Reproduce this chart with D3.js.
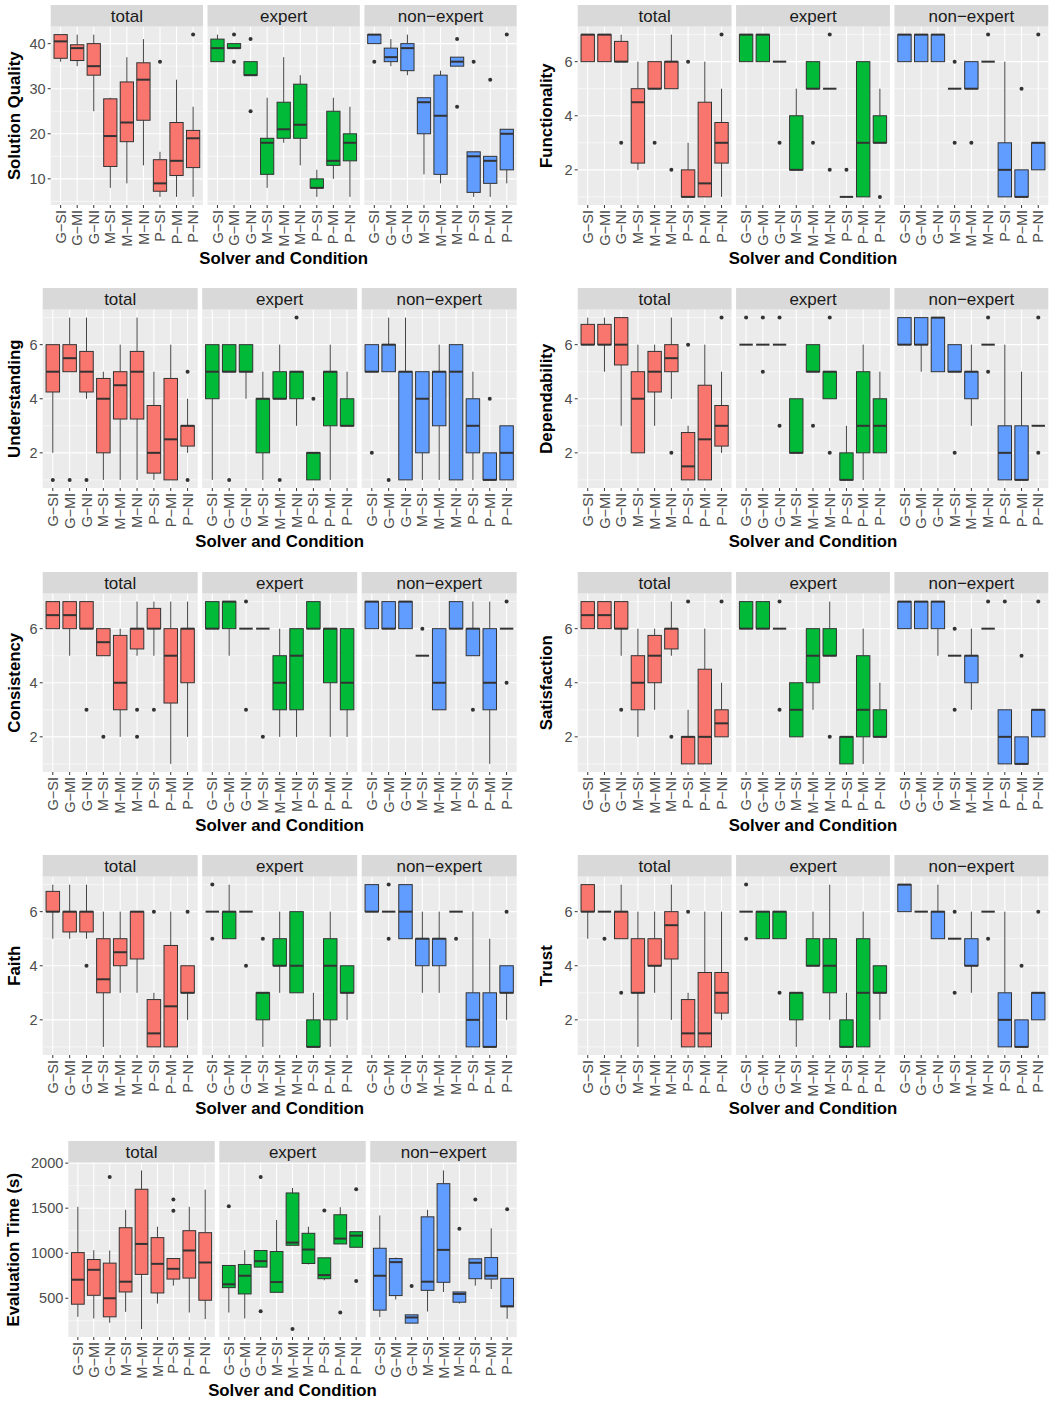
<!DOCTYPE html>
<html><head><meta charset="utf-8">
<script src="https://cdn.jsdelivr.net/npm/d3@7"></script>
<style>
body{margin:0;background:#fff}
svg{display:block}
text{font-family:"Liberation Sans",Arial,Helvetica,sans-serif}
</style>
</head><body>
<svg id="chart" width="1058" height="1402"></svg>
<script>
// ---------------- DATA ----------------
const categories = ["G−SI","G−MI","G−NI","M−SI","M−MI","M−NI","P−SI","P−MI","P−NI"];
const groups = ["total","expert","non−expert"];
const groupColors = ["#F8766D","#00BA38","#619CFF"];
const xAxisTitle = "Solver and Condition";

// each row: [whiskerLow, q1, median, q3, whiskerHigh, outliers]; one block per group (total, expert, non-expert)
const solutionQuality = [
  [[36,36.75,40.5,42,42,[]],[35,36.25,39,39.75,42,[]],[25,33,35,40,42,[]],[8,12.75,19.5,27.75,28,[]],[9,18.25,22.5,31.5,37,[]],[13,23,32,35.75,41,[]],[6,7.25,9,14.25,16,[36]],[6,10.75,14,22.5,32,[]],[6,12.5,19,20.75,26,[42]]],
  [[36,36,39,41,42,[]],[39,39,39,40,40,[42,36]],[33,33,33,36,36,[41,25]],[8,11,18,19,28,[]],[18,19,21,27,37,[]],[13,19,22,31,33,[]],[6,8,8,10,12,[]],[10,13,14,25,28,[]],[6,14,18,20,26,[]]],
  [[40,40,42,42,42,[36]],[35,36,37,39,41,[]],[33,34,39,40,42,[]],[11,20,27,28,28,[]],[9,11,24,33,34,[]],[35,35,36,37,37,[41,26]],[6,7,15,16,16,[36]],[6,9,14,15,15,[32]],[9,12,20,21,21,[42]]]
];
const functionality = [
  [[6,6,7,7,7,[]],[6,6,7,7,7,[]],[6,6,6,6.75,7,[3]],[2,2.25,4.5,5,6,[]],[5,5,5,6,6,[3]],[5,5,6,6,7,[2]],[1,1,1,2,3,[6]],[1,1,1.5,4.5,6,[]],[1,2.25,3,3.75,5,[7]]],
  [[6,6,7,7,7,[]],[6,6,7,7,7,[]],[6,6,6,6,6,[3]],[2,2,2,4,5,[]],[5,5,5,6,6,[3]],[5,5,5,5,5,[7,2]],[1,1,1,1,1,[2]],[1,1,3,6,6,[]],[3,3,3,4,5,[1]]],
  [[6,6,7,7,7,[]],[6,6,7,7,7,[]],[6,6,7,7,7,[]],[5,5,5,5,5,[6,3]],[5,5,5,6,6,[3]],[6,6,6,6,6,[7]],[1,1,2,3,6,[]],[1,1,1,2,2,[5]],[2,2,3,3,3,[7]]]
];
const understanding = [
  [[2,4.25,5,6,6,[1]],[5,5,5.5,6,7,[1]],[4,4.25,5,5.75,7,[1]],[1,2,4,4.75,5,[]],[1,3.25,4.5,5,6,[]],[1,3.25,5,5.75,7,[]],[1,1.25,2,3.75,5,[]],[1,1,2.5,4.75,6,[]],[2,2.25,3,3,4,[5,1]]],
  [[1,4,5,6,6,[]],[5,5,5,6,6,[1]],[4,5,5,6,6,[]],[1,2,4,4,5,[]],[4,4,4,5,6,[1]],[3,4,5,5,5,[7]],[1,1,2,2,2,[4]],[1,3,5,5,6,[]],[3,3,3,4,5,[]]],
  [[5,5,5,6,6,[2]],[5,5,6,6,7,[1]],[1,1,5,5,7,[]],[1,2,4,5,5,[]],[1,3,5,5,6,[]],[1,1,5,6,6,[]],[1,2,3,4,5,[]],[1,1,1,2,2,[4]],[1,1,2,3,3,[]]]
];
const dependability = [
  [[6,6,6,6.75,7,[]],[5,6,6,6.75,7,[]],[3,5.25,6,7,7,[]],[2,2,4,5,6,[]],[3,4.25,5,5.75,6,[]],[4,5,5.5,6,7,[2]],[1,1,1.5,2.75,3,[6]],[1,1,2.5,4.5,6,[]],[2,2.25,3,3.75,5,[7]]],
  [[6,6,6,6,6,[7]],[6,6,6,6,6,[7,5]],[6,6,6,6,6,[7,3]],[2,2,2,4,4,[]],[5,5,5,6,6,[3]],[4,4,5,5,5,[7,2]],[1,1,1,2,3,[]],[1,2,3,5,6,[]],[2,2,3,4,5,[]]],
  [[6,6,6,7,7,[]],[5,6,6,7,7,[]],[5,5,7,7,7,[]],[5,5,5,6,6,[2]],[3,4,5,5,6,[]],[6,6,6,6,6,[7,5]],[1,1,2,3,6,[]],[1,1,1,3,5,[]],[3,3,3,3,3,[7,2]]]
];
const consistency = [
  [[6,6,6.5,7,7,[]],[5,6,6.5,7,7,[]],[6,6,6,7,7,[3]],[5,5,5.5,6,6,[2]],[2,3,4,5.75,6,[]],[5,5.25,6,6,7,[3,2]],[5,6,6,6.75,7,[3]],[1,3.25,5,6,7,[]],[2,4,6,6,7,[]]],
  [[6,6,6,7,7,[]],[5,6,7,7,7,[]],[6,6,6,6,6,[7,3]],[6,6,6,6,6,[2]],[2,3,4,5,6,[]],[2,3,5,6,6,[]],[6,6,6,7,7,[]],[2,4,6,6,6,[]],[2,3,4,6,6,[]]],
  [[6,6,7,7,7,[]],[6,6,6,7,7,[]],[6,6,7,7,7,[]],[5,5,5,5,5,[6]],[3,3,4,6,6,[]],[6,6,6,7,7,[]],[5,5,6,6,7,[3]],[1,3,4,6,7,[]],[6,6,6,6,6,[7,4]]]
];
const satisfaction = [
  [[6,6,6.5,7,7,[]],[6,6,6.5,7,7,[]],[5,6,6,7,7,[3]],[2,3,4,5,6,[]],[3,4,5,5.75,6,[]],[5,5.25,6,6,7,[2]],[1,1,2,2,3,[7]],[1,1,2,4.5,6,[]],[2,2,2.5,3,4,[7]]],
  [[6,6,6,7,7,[]],[6,6,6,7,7,[]],[6,6,6,6,6,[7,3]],[2,2,3,4,4,[]],[3,4,5,6,6,[]],[5,5,5,6,7,[2]],[1,1,2,2,2,[]],[1,2,3,5,6,[]],[2,2,2,3,4,[]]],
  [[6,6,7,7,7,[]],[6,6,7,7,7,[]],[5,6,7,7,7,[]],[5,5,5,5,5,[6,3]],[3,4,5,5,6,[]],[6,6,6,6,6,[7]],[1,1,2,3,3,[7]],[1,1,1,2,2,[5]],[2,2,3,3,3,[7]]]
];
const faith = [
  [[5,6,6,6.75,7,[]],[5,5.25,6,6,7,[]],[5,5.25,6,6,7,[4]],[1,3,3.5,5,6,[]],[3,4,4.5,5,6,[]],[3,4.25,6,6,6,[]],[1,1,1.5,2.75,3,[6]],[1,1,2.5,4.75,6,[]],[2,3,3,4,4,[6]]],
  [[6,6,6,6,6,[7,5]],[5,5,6,6,7,[]],[6,6,6,6,6,[4]],[1,2,3,3,3,[5]],[3,4,4,5,6,[]],[3,3,4,6,6,[]],[1,1,1,2,3,[]],[1,2,4,5,6,[]],[2,3,3,4,4,[]]],
  [[6,6,6,7,7,[]],[6,6,6,6,6,[7,5]],[5,5,6,7,7,[]],[3,4,5,5,6,[]],[3,4,5,5,6,[]],[6,6,6,6,6,[5]],[1,1,2,3,6,[]],[1,1,1,3,5,[]],[2,3,3,4,4,[6]]]
];
const trust = [
  [[5,6,6,7,7,[]],[6,6,6,6,6,[5]],[5,5,6,6,7,[3]],[1,3,3,5,6,[]],[3,4,4,5,6,[]],[2,4.25,5.5,6,7,[]],[1,1,1.5,2.75,3,[6]],[1,1,1.5,3.75,6,[]],[2,2.25,3,3.75,6,[]]],
  [[6,6,6,6,6,[7,5]],[5,5,6,6,6,[]],[5,5,6,6,6,[3]],[1,2,3,3,3,[]],[4,4,4,5,6,[]],[2,3,4,5,7,[]],[1,1,1,2,3,[]],[1,1,3,5,6,[]],[2,3,3,4,4,[]]],
  [[6,6,7,7,7,[]],[6,6,6,6,6,[]],[5,5,6,6,7,[]],[5,5,5,5,5,[6,3]],[3,4,4,5,6,[]],[6,6,6,6,6,[5]],[1,1,2,3,6,[]],[1,1,1,2,2,[4]],[2,2,3,3,3,[6]]]
];
const evaluationTime = [
  [[294,434,706,1007,1515,[]],[276,533,816,930,1033,[]],[228,294,500,890,1030,[1846]],[349,570,684,1283,1482,[]],[158,765,1103,1710,1919,[]],[441,559,882,1173,1294,[]],[640,713,827,941,941,[1596,1471]],[342,724,1030,1250,1515,[]],[269,478,897,1228,1706,[]]],
  [[342,618,655,864,864,[1522]],[276,548,750,875,1033,[]],[846,846,912,1030,1030,[1846,357]],[566,566,680,1019,1368,[]],[1088,1088,1118,1669,1724,[158]],[875,886,1041,1221,1294,[]],[699,717,757,949,949,[1474]],[1103,1103,1162,1427,1511,[342]],[1066,1066,1195,1239,1239,[1710,691]]],
  [[291,368,750,1055,1419,[]],[486,530,901,941,952,[]],[224,224,287,316,316,[636]],[353,588,684,1404,1482,[]],[570,677,1037,1772,1919,[]],[441,456,548,570,570,[1272]],[640,717,894,938,938,[1596]],[603,713,750,952,1276,[]],[272,405,412,721,721,[1489]]]
];

const charts = [
  {title:"Solution Quality", data:solutionQuality},
  {title:"Functionality", data:functionality},
  {title:"Understanding", data:understanding},
  {title:"Dependability", data:dependability},
  {title:"Consistency", data:consistency},
  {title:"Satisfaction", data:satisfaction},
  {title:"Faith", data:faith},
  {title:"Trust", data:trust},
  {title:"Evaluation Time (s)", data:evaluationTime}
];

// ---------------- LAYOUT ----------------
const layout = [
  {left:50.7, right:516.7, top:5, bottom:205, yTitleX:20},
  {left:577.7, right:1048.3, top:5, bottom:205, yTitleX:552},
  {left:42.7, right:516.7, top:288, bottom:488, yTitleX:20},
  {left:577.7, right:1048.3, top:288, bottom:488, yTitleX:552},
  {left:42.7, right:516.7, top:572, bottom:772, yTitleX:20},
  {left:577.7, right:1048.3, top:572, bottom:772, yTitleX:552},
  {left:42.7, right:516.7, top:855, bottom:1055, yTitleX:20},
  {left:577.7, right:1048.3, top:855, bottom:1055, yTitleX:552},
  {left:68.3, right:516.7, top:1141, bottom:1337, yTitleX:19}
];
const stripH = 21.5, gap = 4.5;
const tickFont = 14.5, stripFont = 17, titleFont = 16.8;

const svg = d3.select("#chart");

charts.forEach((c, ci) => {
  const L = layout[ci];
  const g = svg.append("g");
  const pw = (L.right - L.left - 2*gap) / 3;
  const plotTop = L.top + stripH;

  // y domain with 5% expansion
  const all = [];
  c.data.forEach(grp => grp.forEach(r => { all.push(r[0], r[4], ...r[5]); }));
  const mn = d3.min(all), mx = d3.max(all), ex = (mx - mn) * 0.05;
  const y = d3.scaleLinear().domain([mn - ex, mx + ex]).range([L.bottom, plotTop]);
  const ticks = y.ticks(4);
  const step = ticks[1] - ticks[0];
  const minors = ticks.map(t => t - step/2).concat([ticks[ticks.length-1] + step/2])
    .filter(v => v > y.domain()[0] && v < y.domain()[1]);

  groups.forEach((grpName, gi) => {
    const px = L.left + gi * (pw + gap);
    const x = d3.scalePoint().domain(categories).range([px, px + pw]).padding(0.6);
    const bw = x.step() * 0.8;

    // panel background
    g.append("rect").attr("x", px).attr("y", plotTop).attr("width", pw).attr("height", L.bottom - plotTop).attr("fill", "#EBEBEB");
    // minor grid
    minors.forEach(v => g.append("line").attr("x1", px).attr("x2", px + pw).attr("y1", y(v)).attr("y2", y(v))
      .attr("stroke", "#fff").attr("stroke-width", 0.55));
    // major grid
    ticks.forEach(v => g.append("line").attr("x1", px).attr("x2", px + pw).attr("y1", y(v)).attr("y2", y(v))
      .attr("stroke", "#fff").attr("stroke-width", 1.1));
    categories.forEach(cat => g.append("line").attr("x1", x(cat)).attr("x2", x(cat)).attr("y1", plotTop).attr("y2", L.bottom)
      .attr("stroke", "#fff").attr("stroke-width", 1.1));

    // strip
    g.append("rect").attr("x", px).attr("y", L.top).attr("width", pw).attr("height", stripH).attr("fill", "#D9D9D9");
    g.append("text").attr("x", px + pw/2).attr("y", L.top + stripH/2).attr("dy", "0.35em")
      .attr("text-anchor", "middle").attr("font-size", stripFont).attr("fill", "#1A1A1A").text(grpName);

    // boxes
    c.data[gi].forEach((r, i) => {
      const cx = x(categories[i]);
      const [lo, q1, med, q3, hi, outs] = r;
      g.append("line").attr("x1", cx).attr("x2", cx).attr("y1", y(hi)).attr("y2", y(q3)).attr("stroke", "#444").attr("stroke-width", 1);
      g.append("line").attr("x1", cx).attr("x2", cx).attr("y1", y(q1)).attr("y2", y(lo)).attr("stroke", "#444").attr("stroke-width", 1);
      g.append("rect").attr("x", cx - bw/2).attr("y", y(q3)).attr("width", bw).attr("height", Math.max(0, y(q1) - y(q3)))
        .attr("fill", groupColors[gi]).attr("stroke", "#333").attr("stroke-width", 1);
      g.append("line").attr("x1", cx - bw/2).attr("x2", cx + bw/2).attr("y1", y(med)).attr("y2", y(med))
        .attr("stroke", "#333").attr("stroke-width", 2);
      outs.forEach(o => g.append("circle").attr("cx", cx).attr("cy", y(o)).attr("r", 2).attr("fill", "#333"));
    });

    // x axis ticks & labels
    const xa = g.append("g").attr("transform", `translate(0,${L.bottom})`);
    categories.forEach(cat => {
      xa.append("line").attr("x1", x(cat)).attr("x2", x(cat)).attr("y1", 0).attr("y2", 3).attr("stroke", "#333");
      xa.append("text").attr("transform", `translate(${x(cat)},5) rotate(-90)`).attr("dy", "0.35em")
        .attr("text-anchor", "end").attr("font-size", tickFont).attr("fill", "#4D4D4D").text(cat);
    });
  });

  // y axis
  ticks.forEach(v => {
    g.append("line").attr("x1", L.left - 3).attr("x2", L.left).attr("y1", y(v)).attr("y2", y(v)).attr("stroke", "#333");
    g.append("text").attr("x", L.left - 5).attr("y", y(v)).attr("dy", "0.35em").attr("text-anchor", "end")
      .attr("font-size", tickFont).attr("fill", "#4D4D4D").text(v);
  });
  // titles
  g.append("text").attr("transform", `translate(${L.yTitleX},${(plotTop + L.bottom)/2}) rotate(-90)`)
    .attr("text-anchor", "middle").attr("font-size", titleFont).attr("font-weight", "bold").attr("fill", "#000").text(c.title);
  g.append("text").attr("x", (L.left + L.right)/2).attr("y", L.bottom + 59).attr("text-anchor", "middle")
    .attr("font-size", titleFont).attr("font-weight", "bold").attr("fill", "#000").text(xAxisTitle);
});
</script>
</body></html>
